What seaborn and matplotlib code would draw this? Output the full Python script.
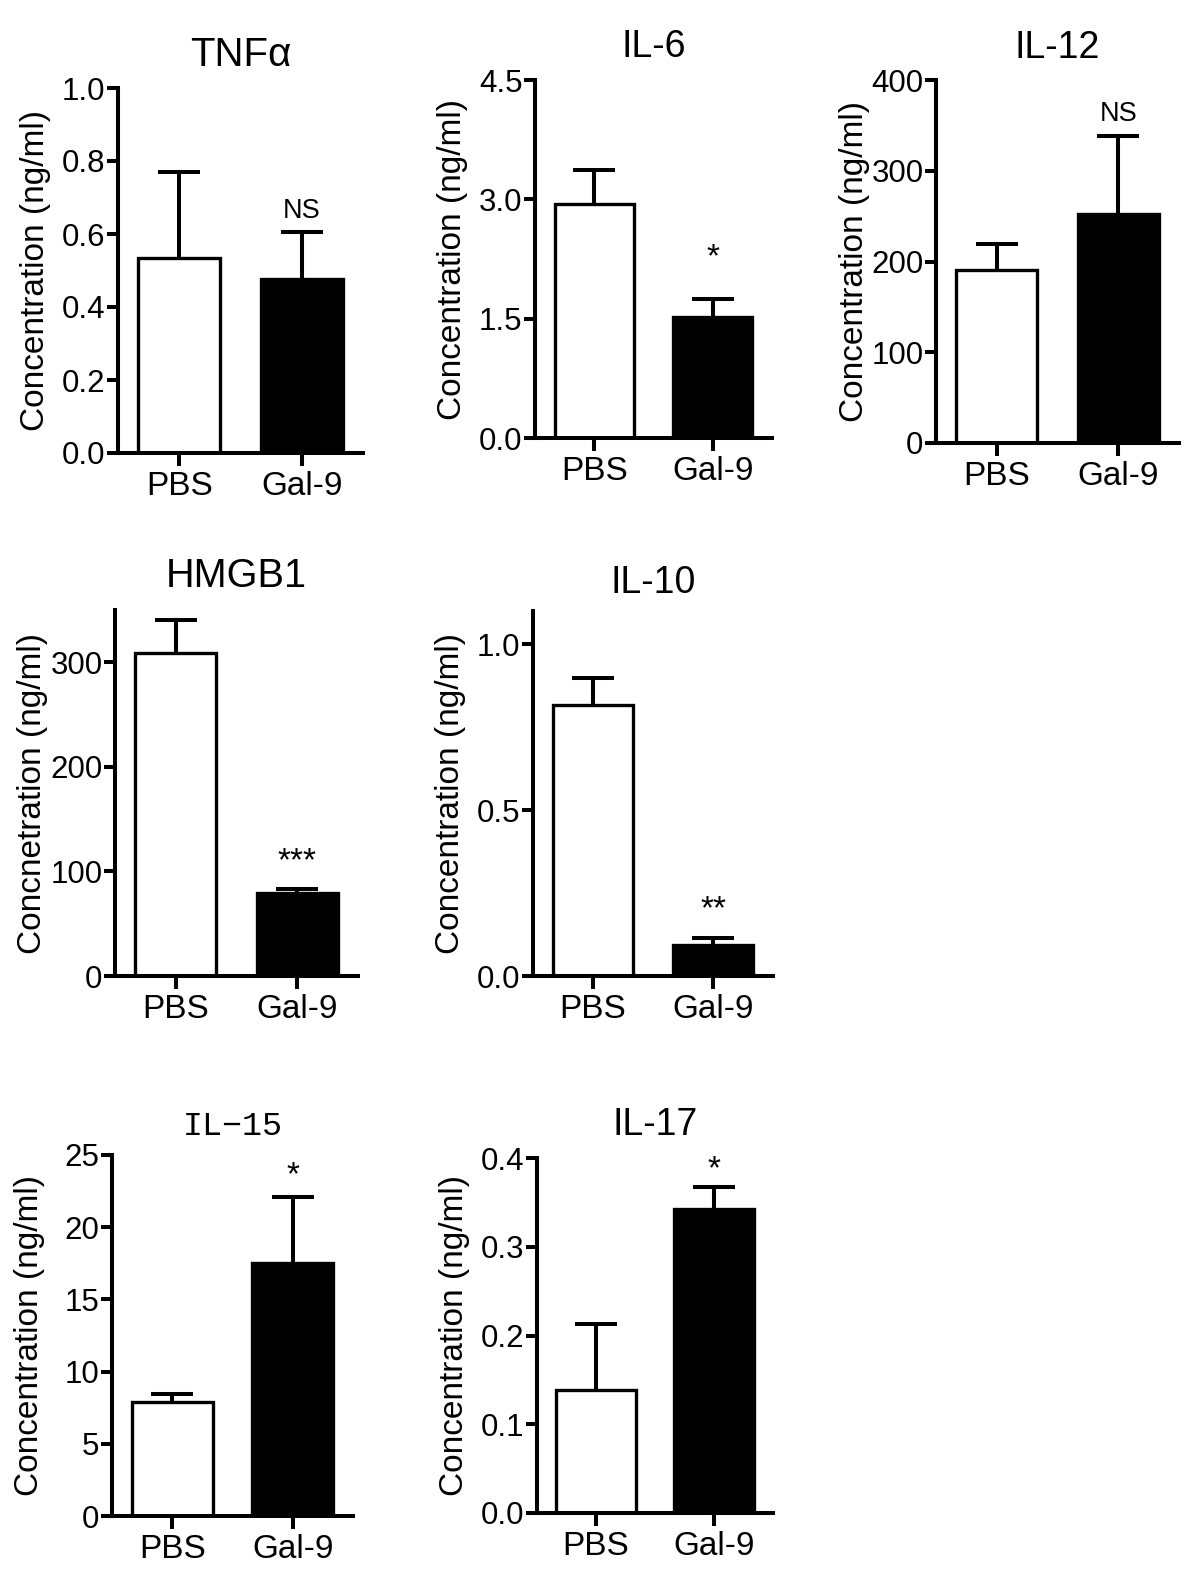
import numpy as np
import pandas as pd
import matplotlib
matplotlib.use("Agg")
import matplotlib.pyplot as plt
import seaborn as sns

# ---- data ----
groups = ["PBS", "Gal-9"]

titles = ["TNFα", "IL-6", "IL-12", "HMGB1", "IL-10", "IL−15", "IL-17"]
ylabels = ["Concentration (ng/ml)"] * 3 + ["Concnetration (ng/ml)"] + ["Concentration (ng/ml)"] * 3

tnf_mean = [0.534, 0.477]
tnf_sem = [0.236, 0.128]
il6_mean = [2.94, 1.52]
il6_sem = [0.43, 0.23]
il12_mean = [191, 252]
il12_sem = [28, 86]
hmgb1_mean = [309, 79.5]
hmgb1_sem = [31, 3.5]
il10_mean = [0.818, 0.094]
il10_sem = [0.079, 0.021]
il15_mean = [7.9, 17.5]
il15_sem = [0.55, 4.6]
il17_mean = [0.139, 0.343]
il17_sem = [0.074, 0.024]

means = [tnf_mean, il6_mean, il12_mean, hmgb1_mean, il10_mean, il15_mean, il17_mean]
sems = [tnf_sem, il6_sem, il12_sem, hmgb1_sem, il10_sem, il15_sem, il17_sem]

signif = ["NS", "*", "NS", "***", "**", "*", "*"]
signif_y = [0.671, 2.39, 365, 119, 0.23, 24.3, 0.398]

yticks = [
    [0.0, 0.2, 0.4, 0.6, 0.8, 1.0],
    [0.0, 1.5, 3.0, 4.5],
    [0, 100, 200, 300, 400],
    [0, 100, 200, 300],
    [0.0, 0.5, 1.0],
    [0, 5, 10, 15, 20, 25],
    [0.0, 0.1, 0.2, 0.3, 0.4],
]
ytick_labels = [
    ["0.0", "0.2", "0.4", "0.6", "0.8", "1.0"],
    ["0.0", "1.5", "3.0", "4.5"],
    ["0", "100", "200", "300", "400"],
    ["0", "100", "200", "300"],
    ["0.0", "0.5", "1.0"],
    ["0", "5", "10", "15", "20", "25"],
    ["0.0", "0.1", "0.2", "0.3", "0.4"],
]
ytop = [1.0, 4.5, 400, 350, 1.1, 25, 0.4]

# ---- layout (pixels on a 1200x1570 canvas) ----
W, H = 1200, 1570
# left, top, right, bottom of each axes
boxes = [
    (118, 88, 363, 453),
    (535, 80, 772, 438),
    (936, 80, 1179, 443),
    (115, 610, 358, 976),
    (533, 611, 773, 976),
    (112, 1155, 353, 1516),
    (537, 1158, 773, 1513),
]
title_base = [66, 57, 58, 587, 593, 1135, 1135]
title_size = [29, 27, 27, 28.5, 27, 24, 27]
title_family = [None, None, None, None, None, "Liberation Mono", None]

sns.set_style("ticks", {"axes.edgecolor": "black", "text.color": "black",
                        "axes.labelcolor": "black", "xtick.color": "black",
                        "ytick.color": "black"})
plt.rcParams["font.family"] = ["Liberation Sans", "DejaVu Sans"]

LW = 2.9

fig = plt.figure(figsize=(W / 100, H / 100), dpi=100)

for i in range(len(titles)):
    l, t, r, b = boxes[i]
    ax = fig.add_axes([l / W, 1 - b / H, (r - l) / W, (b - t) / H])

    df = pd.DataFrame({"group": groups, "value": means[i]})
    sns.barplot(data=df, x="group", y="value", hue="group",
                palette=["white", "black"], legend=False, errorbar=None,
                width=0.67, edgecolor="black", linewidth=2.4, ax=ax, zorder=3)
    # one-sided (upper) SEM bars
    eb = ax.errorbar(x=np.arange(len(groups)), y=means[i],
                     yerr=[np.zeros(len(groups)), sems[i]], fmt="none",
                     ecolor="black", elinewidth=LW, capsize=15, capthick=LW, zorder=2)
    for cap in eb[1]:
        if np.allclose(cap.get_ydata(), means[i]):
            cap.set_visible(False)

    ax.set_xlim(-0.5, 1.5)
    ax.set_ylim(0, ytop[i])
    ax.set_yticks(yticks[i])
    ax.set_yticklabels(ytick_labels[i])
    ax.set_xlabel("")
    ax.set_ylabel(ylabels[i], fontsize=24, va="center")
    ax.yaxis.set_label_coords(-82 / (r - l), 0.5)

    sns.despine(ax=ax)
    for side in ["left", "bottom"]:
        ax.spines[side].set_linewidth(LW)
        ax.spines[side].set_zorder(4)
    ax.tick_params(axis="y", length=8, width=LW, labelsize=22.5, pad=1)
    ax.tick_params(axis="x", length=9, width=LW, labelsize=24, pad=4)

    # significance marks above the Gal-9 bar
    lab = signif[i]
    if lab.startswith("*"):
        fs, off = 24, -13.5
    else:
        fs, off = 19.5, -7
    ax.annotate(lab, xy=(1, signif_y[i]), xytext=(0, off),
                textcoords="offset points", ha="center", va="baseline",
                fontsize=fs, annotation_clip=False)

    fam = title_family[i]
    fig.text((l + r) / 2 / W, 1 - title_base[i] / H, titles[i],
             ha="center", va="baseline", fontsize=title_size[i],
             family=[fam, "DejaVu Sans"] if fam else None)

fig.savefig("out.png", dpi=100)
